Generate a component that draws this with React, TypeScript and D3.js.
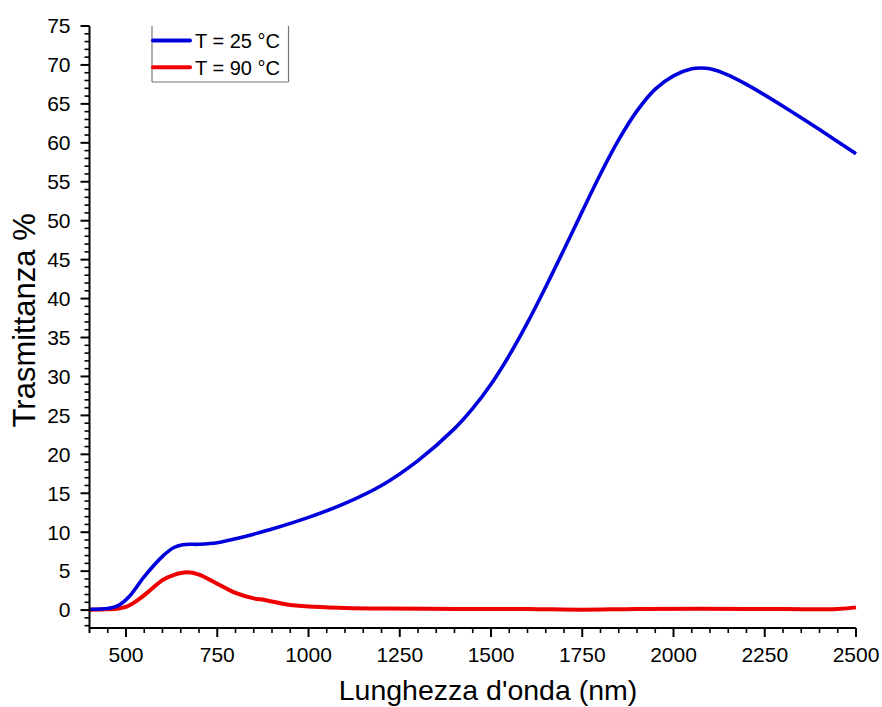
import React from "react";
import * as d3 from "d3";

const W = 882;
const H = 707;

const xTicks = [500, 750, 1000, 1250, 1500, 1750, 2000, 2250, 2500];
const yTicks = [0, 5, 10, 15, 20, 25, 30, 35, 40, 45, 50, 55, 60, 65, 70, 75];

const blueWl = [400, 450, 480, 510, 550, 600, 630, 655, 700, 750, 800, 850, 900, 1000, 1100, 1200, 1300, 1400, 1450, 1500, 1550, 1600, 1650, 1700, 1750, 1800, 1850, 1900, 1950, 2000, 2050, 2075, 2100, 2150, 2200, 2300, 2400, 2500];
const blueT = [0.1, 0.2, 0.6, 1.8, 4.3, 6.9, 8.0, 8.4, 8.45, 8.65, 9.15, 9.75, 10.4, 11.9, 13.7, 16.0, 19.2, 23.3, 25.9, 29.0, 32.7, 36.9, 41.5, 46.3, 51.2, 56.0, 60.4, 64.1, 66.9, 68.6, 69.5, 69.6, 69.5, 68.7, 67.5, 64.7, 61.7, 58.6];

const redWl = [400, 450, 480, 500, 520, 544, 570, 600, 630, 667, 700, 745, 800, 850, 880, 937, 1000, 1100, 1200, 1400, 1600, 1750, 1900, 2200, 2450, 2500];
const redT = [0.05, 0.1, 0.2, 0.4, 0.9, 1.7, 2.7, 3.85, 4.5, 4.85, 4.55, 3.5, 2.2, 1.5, 1.3, 0.75, 0.45, 0.28, 0.2, 0.15, 0.15, 0.05, 0.15, 0.15, 0.15, 0.35];

const legendLabels = ["T = 25 °C", "T = 90 °C"];
const colors = ["#0000dd", "#ee0000"];

const FONT = "'Liberation Sans', Arial, sans-serif";

export default function App() {
  const x = d3.scaleLinear().domain([400, 2500]).range([89.5, 856]);
  const y = d3.scaleLinear().domain([-2.3, 75]).range([628, 26]);

  const line = d3
    .line<[number, number]>()
    .x((d) => x(d[0]))
    .y((d) => y(d[1]))
    .curve(d3.curveCatmullRom.alpha(0.5));

  const blue = blueWl.map((w, i) => [w, blueT[i]] as [number, number]);
  const red = redWl.map((w, i) => [w, redT[i]] as [number, number]);

  const xMinor = d3.range(400, 2501, 50).filter((v) => v % 250 !== 0);
  const yMinor = d3.range(-2, 76, 1).filter((v) => v % 5 !== 0);

  const x0 = x.range()[0];
  const yb = y.range()[0];

  return (
    <svg width={W} height={H} style={{ position: "absolute", left: 0, top: 0, background: "#fff" }} fontFamily={FONT}>
      <rect width={W} height={H} fill="#fff" />
      {/* data */}
      <path d={line(red) || ""} fill="none" stroke={colors[1]} strokeWidth={4} strokeLinejoin="round" />
      <path d={line(blue) || ""} fill="none" stroke={colors[0]} strokeWidth={3.6} strokeLinejoin="round" />

      {/* y axis */}
      <line x1={x0} x2={x0} y1={y.range()[1]} y2={yb} stroke="#000" strokeWidth={2} />
      {yTicks.map((t) => (
        <g key={"yt" + t}>
          <line x1={x0 - 9} x2={x0} y1={y(t)} y2={y(t)} stroke="#000" strokeWidth={2} />
          <text x={x0 - 19} y={y(t)} dy="0.35em" textAnchor="end" fontSize={21} fill="#000">
            {t}
          </text>
        </g>
      ))}
      {yMinor.map((t) => (
        <line key={"ym" + t} x1={x0 - 5} x2={x0} y1={y(t)} y2={y(t)} stroke="#000" strokeWidth={1.6} />
      ))}

      {/* x axis */}
      <line x1={x0} x2={x.range()[1]} y1={yb} y2={yb} stroke="#000" strokeWidth={2} />
      {xTicks.map((t) => (
        <g key={"xt" + t}>
          <line x1={x(t)} x2={x(t)} y1={yb} y2={yb + 9} stroke="#000" strokeWidth={2} />
          <text x={x(t)} y={yb + 34} textAnchor="middle" fontSize={21} fill="#000">
            {t}
          </text>
        </g>
      ))}
      {[400, ...xMinor].map((t) => (
        <line key={"xm" + t} x1={x(t)} x2={x(t)} y1={yb} y2={yb + 5} stroke="#000" strokeWidth={1.6} />
      ))}

      {/* axis titles */}
      <text x={488} y={700} textAnchor="middle" fontSize={28.5} fill="#000">
        Lunghezza d'onda (nm)
      </text>
      <text
        transform={`translate(35, ${y(37.2)}) rotate(-90)`}
        textAnchor="middle"
        fontSize={31}
        fill="#000"
      >
        Trasmittanza %
      </text>

      {/* legend */}
      <g>
        <line x1={152} x2={152} y1={26} y2={82} stroke="#777" strokeWidth={1.2} />
        <line x1={288.5} x2={288.5} y1={26} y2={82} stroke="#777" strokeWidth={1.2} />
        <line x1={152} x2={288.5} y1={82} y2={82} stroke="#777" strokeWidth={1.2} />
        {legendLabels.map((lab, i) => (
          <g key={lab}>
            <line x1={153} x2={190} y1={40.5 + i * 26.8} y2={40.5 + i * 26.8} stroke={colors[i]} strokeWidth={4} strokeLinecap="round" />
            <text x={195} y={40.5 + i * 26.8} dy="0.36em" fontSize={20} fill="#000">
              {lab}
            </text>
          </g>
        ))}
      </g>
    </svg>
  );
}
